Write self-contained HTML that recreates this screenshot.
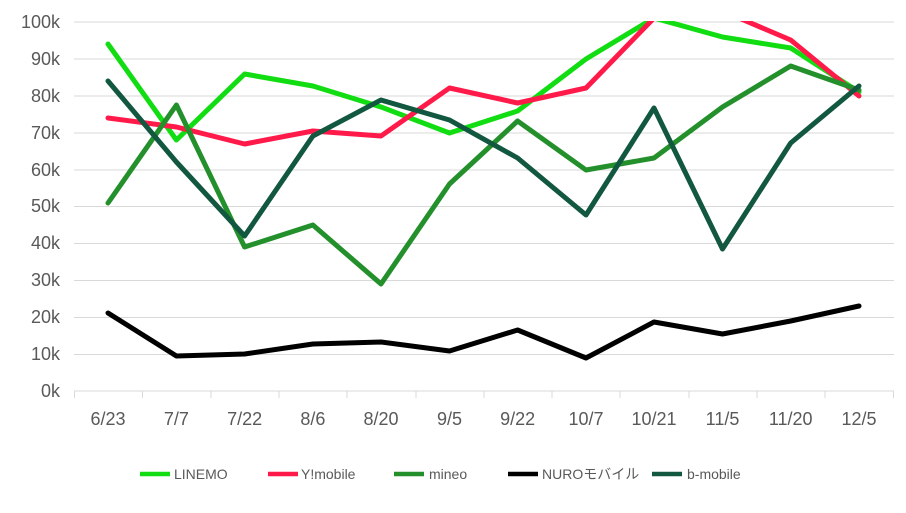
<!DOCTYPE html>
<html><head><meta charset="utf-8"><style>body{margin:0;background:#fff}svg{display:block}</style></head><body>
<svg width="906" height="513" xmlns="http://www.w3.org/2000/svg" font-family="'Liberation Sans','Noto Sans CJK JP',sans-serif">
<defs><clipPath id="c"><rect x="74" y="21" width="820" height="380"/></clipPath></defs>
<g stroke="#d9d9d9" stroke-width="1">
<line x1="74" x2="894" y1="22" y2="22"/><line x1="74" x2="894" y1="59" y2="59"/><line x1="74" x2="894" y1="96" y2="96"/><line x1="74" x2="894" y1="133" y2="133"/><line x1="74" x2="894" y1="170" y2="170"/><line x1="74" x2="894" y1="206.5" y2="206.5"/><line x1="74" x2="894" y1="243.5" y2="243.5"/><line x1="74" x2="894" y1="280.5" y2="280.5"/><line x1="74" x2="894" y1="317.5" y2="317.5"/><line x1="74" x2="894" y1="354.5" y2="354.5"/><line x1="74" x2="894" y1="391" y2="391"/>
<line x1="74.5" x2="74.5" y1="391" y2="398"/><line x1="142.5" x2="142.5" y1="391" y2="398"/><line x1="211" x2="211" y1="391" y2="398"/><line x1="279" x2="279" y1="391" y2="398"/><line x1="347" x2="347" y1="391" y2="398"/><line x1="416" x2="416" y1="391" y2="398"/><line x1="484" x2="484" y1="391" y2="398"/><line x1="552" x2="552" y1="391" y2="398"/><line x1="620" x2="620" y1="391" y2="398"/><line x1="689" x2="689" y1="391" y2="398"/><line x1="757" x2="757" y1="391" y2="398"/><line x1="825" x2="825" y1="391" y2="398"/><line x1="893.5" x2="893.5" y1="391" y2="398"/>
</g>
<g fill="#595959" font-size="18" text-anchor="end">
<text x="60" y="28">100k</text><text x="60" y="65">90k</text><text x="60" y="102">80k</text><text x="60" y="139">70k</text><text x="60" y="176">60k</text><text x="60" y="212">50k</text><text x="60" y="249">40k</text><text x="60" y="286">30k</text><text x="60" y="323">20k</text><text x="60" y="360">10k</text><text x="60" y="397">0k</text>
</g>
<g fill="#595959" font-size="18" text-anchor="middle">
<text x="108" y="425">6/23</text><text x="176.4" y="425">7/7</text><text x="244.6" y="425">7/22</text><text x="312.9" y="425">8/6</text><text x="381" y="425">8/20</text><text x="449.5" y="425">9/5</text><text x="517.6" y="425">9/22</text><text x="586" y="425">10/7</text><text x="654" y="425">10/21</text><text x="722.5" y="425">11/5</text><text x="790.7" y="425">11/20</text><text x="859" y="425">12/5</text>
</g>
<g clip-path="url(#c)" fill="none" stroke-width="5" stroke-linejoin="round" stroke-linecap="round">
<polyline stroke="#12dd12" points="108,44 176.4,140 244.6,74 312.9,86 381,107 449.5,133 517.6,111 586,59 654,18 722.5,37 790.7,48 859,92"/>
<polyline stroke="#ff1a4a" points="108,118 176.4,127 244.6,144 312.9,131 381,136 449.5,88 517.6,103 586,88 654,18 722.5,11 790.7,40 859,96"/>
<polyline stroke="#23902c" points="108,203 176.4,105 244.6,247 312.9,225 381,284 449.5,184 517.6,121 586,170 654,158 722.5,107 790.7,66 859,90"/>
<polyline stroke="#000" points="108,313 176.4,356 244.6,354 312.9,344 381,342 449.5,351 517.6,330 586,358 654,322 722.5,334 790.7,321 859,306"/>
<polyline stroke="#12573f" points="108,81 176.4,162 244.6,236 312.9,136 381,100 449.5,120 517.6,158 586,215 654,108 722.5,249 790.7,143 859,86"/>
</g>
<g stroke-width="4.5">
<line x1="140" x2="170" y1="474" y2="474" stroke="#12dd12"/>
<line x1="268" x2="298" y1="474" y2="474" stroke="#ff1a4a"/>
<line x1="394" x2="424" y1="474" y2="474" stroke="#23902c"/>
<line x1="508" x2="538" y1="474" y2="474" stroke="#000"/>
<line x1="652" x2="682" y1="474" y2="474" stroke="#12573f"/>
</g>
<g fill="#595959" font-size="14">
<text x="174" y="479">LINEMO</text><text x="301" y="479">Y!mobile</text><text x="429" y="479">mineo</text><text x="542" y="479">NUROモバイル</text><text x="687" y="479">b-mobile</text>
</g>
</svg>
</body></html>
